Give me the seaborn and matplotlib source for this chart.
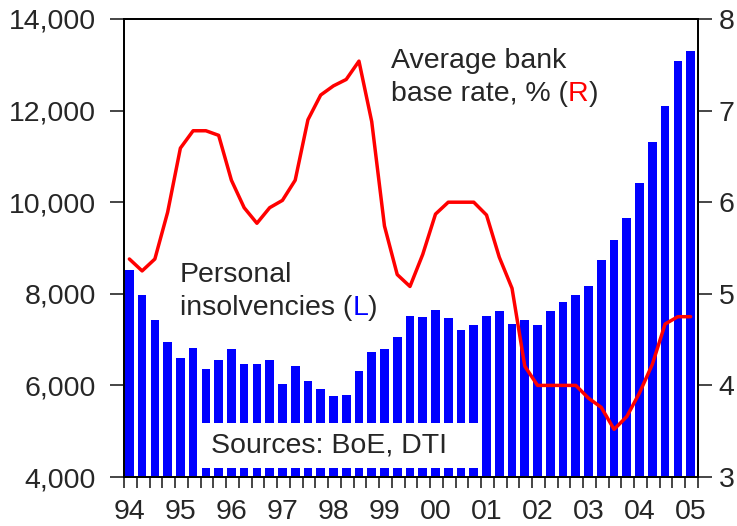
import numpy as np
import pandas as pd
import matplotlib
matplotlib.use("Agg")
import matplotlib.pyplot as plt
import seaborn as sns
from matplotlib.patches import Rectangle
from matplotlib.ticker import FuncFormatter

# ---- data (quarterly, 1994Q1 - 2005Q1) ----
year_labels = ["94", "95", "96", "97", "98", "99", "00", "01", "02", "03", "04", "05"]
insolvencies = [8516, 7967, 7418, 6957, 6606, 6825, 6364, 6562, 6803, 6474,
                6474, 6562, 6035, 6430, 6100, 5925, 5772, 5794, 6320, 6738,
                6803, 7067, 7506, 7484, 7638, 7462, 7220, 7308, 7506, 7616,
                7330, 7418, 7308, 7616, 7813, 7967, 8165, 8735, 9181, 9657,
                10410, 11304, 12094, 13089, 13302]
base_rate = [5.38, 5.25, 5.38, 5.89, 6.59, 6.78, 6.78, 6.73, 6.24, 5.94,
             5.77, 5.94, 6.02, 6.24, 6.90, 7.17, 7.27, 7.34, 7.54, 6.88,
             5.74, 5.21, 5.08, 5.43, 5.87, 6.00, 6.00, 6.00, 5.86, 5.40,
             5.06, 4.21, 4.00, 4.00, 4.00, 4.00, 3.86, 3.76, 3.52, 3.66,
             3.92, 4.23, 4.67, 4.75, 4.75]

quarter_idx = list(range(len(insolvencies)))
df = pd.DataFrame({"q": quarter_idx, "insolv": insolvencies, "rate": base_rate})

sns.set_style("ticks")
plt.rcParams["font.family"] = ["Liberation Sans", "DejaVu Sans"]
plt.rcParams["axes.linewidth"] = 1.3

W, H = 737, 526
fig = plt.figure(figsize=(W / 100, H / 100), dpi=100)
ax = fig.add_axes([124 / W, 1 - 477 / H, (698 - 124) / W, (477 - 19) / H])

BLUE = "#0000FF"
RED = "#FF0000"
FS = 20.5

sns.barplot(data=df, x="q", y="insolv", color=BLUE, native_scale=True,
            width=0.68, saturation=1, ax=ax, zorder=2)
for p in ax.patches:
    p.set_edgecolor("none")

ax.set_ylim(4000, 14000)
ax.set_yticks(np.arange(4000, 14001, 2000))
ax.yaxis.set_major_formatter(FuncFormatter(lambda v, pos: f"{int(v):,}"))
ax.set_xlim(-0.42, len(insolvencies) - 0.42)
ax.set_xlabel("")
ax.set_ylabel("")

# x ticks: labels at Q1 of each year, tick marks at quarter boundaries
ax.set_xticks(np.arange(0, len(insolvencies), 4))
ax.set_xticklabels(year_labels)
ax.set_xticks(np.arange(len(insolvencies) + 1) - 0.42, minor=True)
ax.tick_params(axis="x", which="major", length=0, pad=16, labelsize=FS)
ax.tick_params(axis="x", which="minor", length=8, width=1.2, direction="out")
ax.tick_params(axis="y", length=10, width=1.2, direction="out", pad=10, labelsize=FS)

ax2 = ax.twinx()
sns.lineplot(data=df, x="q", y="rate", color=RED, linewidth=2.5, ax=ax2, zorder=3)
ax2.set_ylim(3, 8)
ax2.set_yticks(np.arange(3, 9, 1))
ax2.set_ylabel("")
ax2.set_xlabel("")
ax2.set_xlim(ax.get_xlim())
ax2.tick_params(axis="y", length=10, width=1.2, direction="out", pad=5, labelsize=FS)

for a in (ax, ax2):
    for s in a.spines.values():
        s.set_visible(True)
        s.set_color("black")
        s.set_linewidth(1.3)

# Sources box
to_ax = lambda x, y: ((x - 124) / (698 - 124), (477 - y) / (477 - 19))
x0, y0 = to_ax(202, 468)
x1, y1 = to_ax(478, 423)
ax.add_patch(Rectangle((x0, y0), x1 - x0, y1 - y0, transform=ax.transAxes,
                       facecolor="white", edgecolor="none", zorder=5))
tx, ty = to_ax(211, 446)
ax.text(tx, ty, "Sources: BoE, DTI", transform=ax.transAxes, fontsize=FS,
        va="center", ha="left", zorder=6)

# Annotations
def colored_label(axis, x, y, line1, pre, letter, color):
    axis.text(x, y, line1, transform=axis.transAxes, fontsize=FS, va="baseline", ha="left")
    t = axis.text(x, y - 33 / 458, pre, transform=axis.transAxes, fontsize=FS,
                  va="baseline", ha="left")
    fig.canvas.draw()
    r = fig.canvas.get_renderer()
    bb = t.get_window_extent(r)
    inv = axis.transAxes.inverted()
    xe = inv.transform((bb.x1, bb.y0))[0]
    t2 = axis.text(xe, y - 33 / 458, letter, transform=axis.transAxes, fontsize=FS,
                   va="baseline", ha="left", color=color)
    bb2 = t2.get_window_extent(r)
    xe2 = inv.transform((bb2.x1, bb2.y0))[0]
    axis.text(xe2, y - 33 / 458, ")", transform=axis.transAxes, fontsize=FS,
              va="baseline", ha="left")

lx, ly = to_ax(180, 282)
colored_label(ax2, lx, ly, "Personal", "insolvencies (", "L", BLUE)
rx, ry = to_ax(391, 68)
colored_label(ax2, rx, ry, "Average bank", "base rate, % (", "R", RED)

fig.savefig("out.png", dpi=100)
